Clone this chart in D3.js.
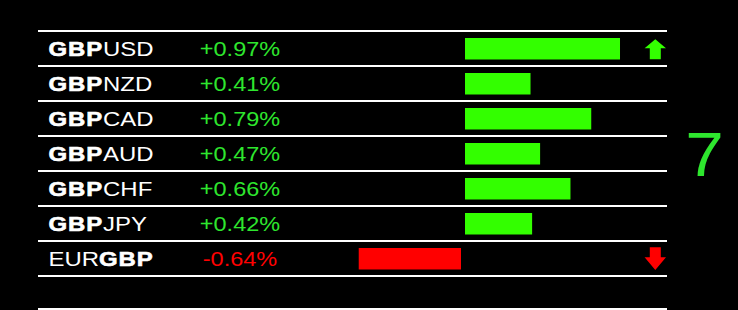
<!DOCTYPE html>
<html><head><meta charset="utf-8">
<script src="https://cdn.jsdelivr.net/npm/d3@7"></script>
<style>html,body{margin:0;padding:0;background:#000;overflow:hidden}</style>
</head><body>
<svg id="chart" width="738" height="310"></svg>
<script>
const baseCcy  = ["GBP","GBP","GBP","GBP","GBP","GBP","EUR"];
const quoteCcy = ["USD","NZD","CAD","AUD","CHF","JPY","GBP"];
const values   = [0.97, 0.41, 0.79, 0.47, 0.66, 0.42, -0.64];
const arrows   = ["up","","","","","","down"];
const strengthCount = "7";

const GREEN_BAR = "#33ff00", GREEN_TXT = "#2ee62e", RED = "#ff0000";
const svg = d3.select("#chart");
svg.append("rect").attr("width",738).attr("height",310).attr("fill","#000");

const pairs = baseCcy.map((b,i)=>b+quoteCcy[i]);
const y = d3.scaleBand().domain(pairs).range([31, 276]).padding(0);
const xPos = d3.scaleLinear().domain([0,1]).range([465, 624.8]);
const xNeg = d3.scaleLinear().domain([-1,0]).range([301.2, 461]);
const SX = 1.14;

// separator lines
const lineYs = pairs.map(p=>y(p)).concat([y.range()[1], 309]);
svg.selectAll("line.sep").data(lineYs).join("line")
  .attr("x1",38).attr("x2",667).attr("y1",d=>d).attr("y2",d=>d)
  .attr("stroke","#fff").attr("stroke-width",2);

const rows = svg.selectAll("g.row").data(pairs.map((p,i)=>({p,i,v:values[i]}))).join("g")
  .attr("transform",d=>`translate(0,${y(d.p)})`);

// bars
rows.append("rect")
  .attr("x",d=>d.v>=0 ? xPos(0) : xNeg(d.v))
  .attr("width",d=>d.v>=0 ? xPos(d.v)-xPos(0) : xNeg(0)-xNeg(d.v))
  .attr("y",7).attr("height",21.5)
  .attr("fill",d=>d.v>=0?GREEN_BAR:RED);

// pair labels
const lab = rows.append("text")
  .attr("transform",`translate(48.5,25.3) scale(${SX},1)`)
  .attr("font-family","Liberation Sans, Arial, sans-serif").attr("font-size",21)
  .attr("fill","#fff");
lab.append("tspan").text(d=>baseCcy[d.i])
  .attr("font-weight",d=>baseCcy[d.i]==="GBP"?"bold":"normal")
  .attr("stroke",d=>baseCcy[d.i]==="GBP"?"#fff":"none").attr("stroke-width",0.6)
  .attr("letter-spacing",d=>baseCcy[d.i]==="GBP"?0.8:0);
lab.append("tspan").text(d=>quoteCcy[d.i])
  .attr("font-weight",d=>quoteCcy[d.i]==="GBP"?"bold":"normal")
  .attr("stroke",d=>quoteCcy[d.i]==="GBP"?"#fff":"none").attr("stroke-width",0.6)
  .attr("letter-spacing",d=>quoteCcy[d.i]==="GBP"?0.8:0);

// percent text
rows.append("text")
  .attr("transform",`translate(240,25.3) scale(1.12,1)`)
  .attr("text-anchor","middle")
  .attr("font-family","Liberation Sans, Arial, sans-serif").attr("font-size",21)
  .attr("fill",d=>d.v>=0?GREEN_TXT:RED)
  .text(d=>(d.v>=0?"+":"")+d.v.toFixed(2)+"%");

// arrows
const ax = 655.3;
rows.filter(d=>arrows[d.i]==="up").append("path")
  .attr("d",`M${ax},8.3 L${ax+10.7},17.3 L${ax+5.5},17.3 L${ax+5.5},28.3 L${ax-5.5},28.3 L${ax-5.5},17.3 L${ax-10.7},17.3 Z`)
  .attr("fill",GREEN_BAR);
rows.filter(d=>arrows[d.i]==="down").append("path")
  .attr("d",`M${ax-5.5},6.3 L${ax+5.5},6.3 L${ax+5.5},16.3 L${ax+10.7},16.3 L${ax},29 L${ax-10.7},16.3 L${ax-5.5},16.3 Z`)
  .attr("fill",RED);

// strength count
svg.append("text")
  .attr("transform","translate(704.5,175.7) scale(1.1,1)")
  .attr("text-anchor","middle")
  .attr("font-family","Liberation Sans, Arial, sans-serif").attr("font-size",63)
  .attr("fill",GREEN_TXT).text(strengthCount);
</script>
</body></html>
